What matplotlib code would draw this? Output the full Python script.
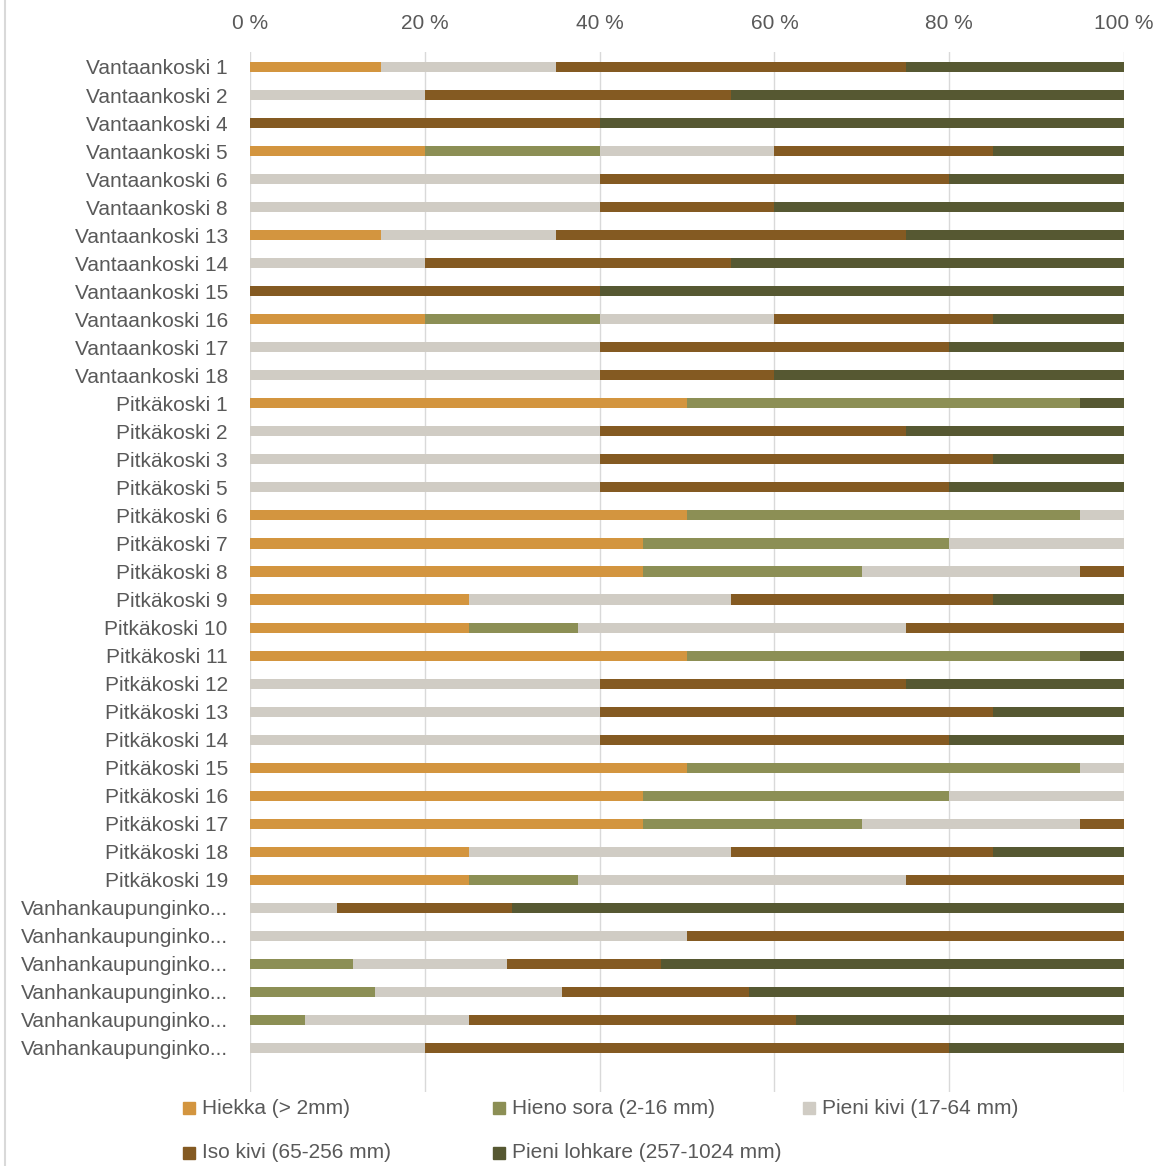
import matplotlib
matplotlib.use("Agg")
import matplotlib.pyplot as plt
import matplotlib.patches as mpatches
import numpy as np

plt.rcParams['font.family'] = ['Liberation Sans', 'DejaVu Sans']

# categories, top to bottom
sites = (
    [f"Vantaankoski {n}" for n in [1, 2, 4, 5, 6, 8, 13, 14, 15, 16, 17, 18]]
    + [f"Pitkäkoski {n}" for n in [1, 2, 3, 5, 6, 7, 8, 9, 10, 11, 12, 13, 14, 15, 16, 17, 18, 19]]
    + ["Vanhankaupunginko..."] * 6
)

series_names = ["Hiekka (> 2mm)", "Hieno sora (2-16 mm)", "Pieni kivi (17-64 mm)",
                "Iso kivi (65-256 mm)", "Pieni lohkare (257-1024 mm)"]
colors = ["#D3953F", "#8C8F55", "#D0CCC4", "#845A22", "#565832"]

# percent shares per site (same order as sites)
hiekka = [15, 0, 0, 20, 0, 0, 15, 0, 0, 20, 0, 0,
          50, 0, 0, 0, 50, 45, 45, 25, 25, 50, 0, 0, 0, 50, 45, 45, 25, 25,
          0, 0, 0, 0, 0, 0]
hieno_sora = [0, 0, 0, 20, 0, 0, 0, 0, 0, 20, 0, 0,
              45, 0, 0, 0, 45, 35, 25, 0, 12.5, 45, 0, 0, 0, 45, 35, 25, 0, 12.5,
              0, 0, 11.76, 14.29, 6.25, 0]
pieni_kivi = [20, 20, 0, 20, 40, 40, 20, 20, 0, 20, 40, 40,
              0, 40, 40, 40, 5, 20, 25, 30, 37.5, 0, 40, 40, 40, 5, 20, 25, 30, 37.5,
              10, 50, 17.65, 21.43, 18.75, 20]
iso_kivi = [40, 35, 40, 25, 40, 20, 40, 35, 40, 25, 40, 20,
            0, 35, 45, 40, 0, 0, 5, 30, 25, 0, 35, 45, 40, 0, 0, 5, 30, 25,
            20, 50, 17.65, 21.43, 37.5, 60]
pieni_lohkare = [25, 45, 60, 15, 20, 40, 25, 45, 60, 15, 20, 40,
                 5, 25, 15, 20, 0, 0, 0, 15, 0, 5, 25, 15, 20, 0, 0, 0, 15, 0,
                 70, 0, 52.94, 42.86, 37.5, 20]

data = np.array([hiekka, hieno_sora, pieni_kivi, iso_kivi, pieni_lohkare], dtype=float)
data = data / data.sum(axis=0) * 100

text_col = "#595959"
fs = 15
W, H = 1164, 1166
fig = plt.figure(figsize=(W / 100, H / 100), dpi=100)
ax = fig.add_axes([250 / W, 1 - 1092 / H, 874 / W, 1040 / H])

y = np.arange(len(sites))
left = np.zeros(len(sites))
for vals, name, col in zip(data, series_names, colors):
    ax.barh(y, vals, left=left, height=0.36, color=col, label=name, zorder=3)
    left += vals

ax.set_xlim(0, 100)
ax.set_ylim(36.57, -0.535)
ax.set_yticks(y)
ax.set_yticklabels(sites, fontsize=fs, color=text_col)
ax.set_xticks([0, 20, 40, 60, 80, 100])
ax.set_xticklabels([f"{v} %" for v in [0, 20, 40, 60, 80, 100]], fontsize=fs, color=text_col)
ax.xaxis.tick_top()
ax.tick_params(axis='both', length=0)
ax.tick_params(axis='y', pad=16)
ax.tick_params(axis='x', pad=14)
ax.grid(axis='x', color="#D9D9D9", linewidth=1, zorder=0)
for s in ax.spines.values():
    s.set_visible(False)

# legend laid out like the spreadsheet one: fixed-width columns, row by row
for i, (name, col) in enumerate(zip(series_names, colors)):
    r, c = divmod(i, 3)
    lx = (183 + 310 * c) / W
    ly = 1 - (1108 + 45 * r) / H
    fig.patches.append(mpatches.Rectangle((lx, ly - 6 / H), 12 / W, 12 / H,
                                          transform=fig.transFigure, color=col))
    fig.text(lx + 19 / W, ly, name, fontsize=fs, color=text_col, va='center', ha='left')

# chart border on the left
fig.add_artist(plt.Line2D([5 / W, 5 / W], [0, 1], transform=fig.transFigure,
                          color="#D9D9D9", linewidth=1.5))

fig.savefig("out.png", dpi=100)
